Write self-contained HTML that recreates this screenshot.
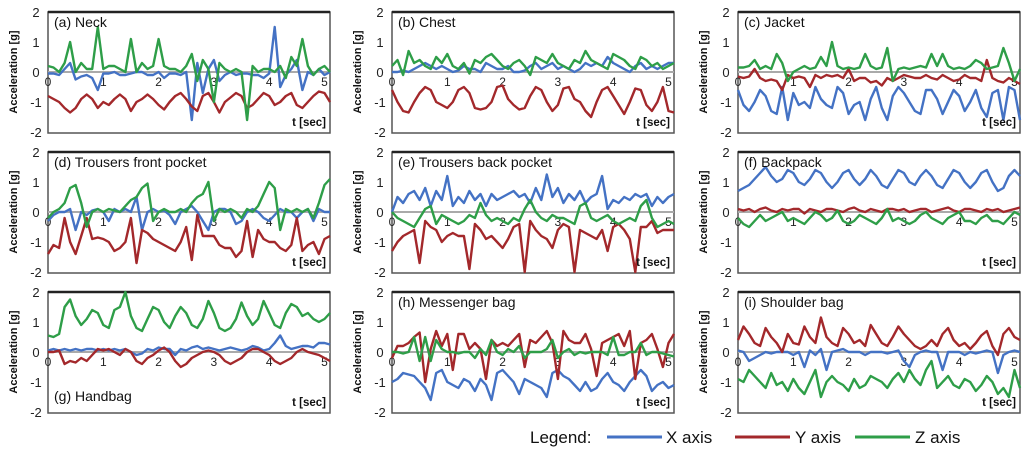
<!DOCTYPE html>
<html><head><meta charset="utf-8"><style>
body{margin:0;background:#fff;width:1024px;height:451px;overflow:hidden;font-family:"Liberation Sans","DejaVu Sans",sans-serif}
svg text{font-family:"Liberation Sans","DejaVu Sans",sans-serif}
</style></head><body>
<svg id="chart" width="1024" height="451" viewBox="0 0 1024 451" xmlns="http://www.w3.org/2000/svg">
<g id="legend">
<text x="530" y="443" font-size="17" fill="#111">Legend:</text>
<line x1="607" y1="437" x2="662" y2="437" stroke="#4472C4" stroke-width="3"/>
<text x="666" y="443" font-size="17" fill="#111">X axis</text>
<line x1="735" y1="437" x2="790" y2="437" stroke="#A3282B" stroke-width="3"/>
<text x="795" y="443" font-size="17" fill="#111">Y axis</text>
<line x1="855" y1="437" x2="910" y2="437" stroke="#2E9E48" stroke-width="3"/>
<text x="915" y="443" font-size="17" fill="#111">Z axis</text>
</g>
</svg>
<script>
const panelTitles=["(a) Neck","(b) Chest","(c) Jacket","(d) Trousers front pocket","(e) Trousers back pocket","(f) Backpack","(g) Handbag","(h) Messenger bag","(i) Shoulder bag"];
const yTicks=[2,1,0,-1,-2];
const xTicks=[0,1,2,3,4,5];
const a_x=[-0.05,-0.05,-0.1,0.1,0.3,-0.25,-0.15,-0.1,-0.2,-0.6,-0.05,-0.05,0,-0.1,-0.1,-0.05,0,0,-0.1,-0.1,0,-0.2,-0.05,-0.05,-0.1,0,-1.6,0.3,-0.7,0.1,0.4,-0.3,-0.1,0,-0.1,-0.05,-0.05,-0.1,-0.1,-0.2,-0.05,1.5,-0.5,-0.1,0.1,0.4,-0.6,0,-0.1,0.1,-0.1,0];
const a_y=[-0.8,-0.9,-1.0,-1.2,-1.35,-1.2,-0.9,-0.75,-0.9,-1.2,-1.0,-1.1,-0.9,-0.75,-0.9,-1.3,-1.0,-0.9,-0.75,-0.9,-1.1,-1.25,-1.0,-0.8,-0.7,-0.9,-1.15,-1.3,-0.8,-0.7,-1.0,-1.35,-1.0,-0.85,-0.7,-0.8,-1.2,-1.1,-0.9,-0.7,-0.8,-1.1,-1.0,-0.8,-0.7,-1.1,-1.2,-1.0,-0.8,-0.65,-0.7,-1.0];
const a_z=[0.2,0.15,0,0.3,1.0,0,0.3,0.1,0.1,1.5,0.1,0.2,0.2,0.1,0,1.1,0,0.3,0.1,0.2,1.1,0.2,0.1,0.1,0,0.2,0.6,-0.3,0.4,0.1,-1.0,0.3,0.1,0,0.1,0,-1.6,0.2,0,0.1,0.1,0,0.2,-0.2,0.5,0.2,1.1,0.2,-0.1,0.1,0.2,0];
const b_x=[0,0,0.05,0,0.1,0.2,0.3,0.2,0.1,0.2,0.1,0,0.05,0.2,0.1,0.1,0,0.3,0.2,0.1,0.1,0.2,0,0,0.05,0.2,0.3,0.1,0.2,0.3,0.1,0.2,0.1,0,0.1,0.3,0.2,0.3,0.2,0.5,0.3,0.2,0.1,0,0.2,0.3,0.1,0.2,0.1,0.2,0.3,0.3];
const b_y=[-0.6,-1.0,-1.3,-1.35,-1.0,-0.7,-0.5,-0.6,-1.0,-1.1,-1.2,-1.0,-0.6,-0.5,-0.7,-1.2,-1.25,-1.2,-1.0,-0.5,-0.45,-0.9,-1.1,-1.25,-1.2,-0.8,-0.5,-0.6,-1.0,-1.3,-1.1,-0.55,-0.5,-0.9,-1.0,-1.3,-1.5,-1.0,-0.6,-0.5,-0.8,-1.1,-1.4,-1.0,-0.55,-0.6,-1.1,-1.3,-1.0,-0.5,-1.3,-1.35];
const b_z=[0.2,0.4,-0.1,0.7,0.3,0.4,0.2,0.1,0.5,0.3,0.6,0.2,0.1,0.3,-0.05,0.4,0.3,0.5,0.6,0.4,0.2,0.1,0.3,0.4,0.2,-0.1,0.5,0.4,0.3,0.6,0.3,0.2,0.1,0.4,0.3,0.7,0.4,0.3,0.2,0.1,0.6,0.5,0.4,0.2,0.1,0.5,0.4,0.2,0.3,0.1,0.2,0.3];
const c_x=[-0.6,-1.1,-1.3,-1.0,-0.6,-0.8,-1.3,-1.4,-0.5,-1.6,-0.7,-1.1,-1.0,-1.2,-0.5,-0.9,-1.1,-1.2,-0.5,-0.7,-1.4,-1.1,-1.0,-1.6,-0.9,-0.5,-1.2,-1.6,-0.8,-0.5,-0.7,-1.0,-1.3,-1.4,-0.6,-0.6,-0.9,-1.4,-1.0,-0.6,-0.8,-1.3,-1.0,-0.6,-1.2,-1.5,-0.7,-0.6,-1.6,-0.5,-0.6,-1.6];
const c_y=[-0.15,-0.2,-0.15,0.1,-0.2,-0.3,-0.25,-0.3,-0.6,-0.1,-0.2,-0.15,-0.2,-0.5,-0.1,-0.2,-0.1,-0.15,-0.1,-0.2,0.1,-0.3,-0.2,-0.2,-0.35,-0.3,-0.45,-0.2,-0.3,-0.2,-0.1,-0.15,-0.2,-0.2,-0.1,-0.2,-0.25,-0.1,-0.2,-0.3,-0.25,-0.1,-0.2,-0.2,-0.3,0.4,-0.2,-0.3,-0.35,-0.2,-0.3,-0.4];
const c_z=[0.15,0.15,0.2,0.4,0.1,0.2,0.1,0.6,0.3,-0.3,0,0.1,0.2,0.1,0.15,0.5,0.2,1.0,0.2,0.1,0.15,0.1,0.15,0.6,0.2,0.1,0.15,0.8,-0.3,0.1,0.15,0.1,0.15,0.2,0.15,0.6,0.2,0.6,0.2,0.1,0.15,0.1,0.2,0.4,0.3,0.1,0.15,0.2,0.8,0.3,-0.3,0.1];
const d_x=[-0.3,-0.1,0,0,0.1,-0.6,0,-0.1,0.05,0.1,0,-0.3,0.1,0,0.1,0,0.5,-0.6,0,0.1,0,0.05,-0.1,-0.4,0,0.1,0.2,0,-0.3,-0.6,0,0.1,0.1,0,-0.4,-0.3,0,0.1,0,-0.2,-0.3,-0.1,0.1,0,0,-0.2,0,0.1,-0.3,0.1,0,0];
const d_y=[-1.4,-1.1,-1.2,-0.2,-1.0,-1.4,-0.8,-0.2,-0.9,-0.85,-0.9,-1.0,-1.3,-1.2,-1.0,-0.2,-1.7,-0.6,-0.7,-0.9,-1.0,-1.1,-1.2,-1.3,-1.0,-0.5,-1.6,-0.1,-0.8,-0.8,-0.8,-1.1,-1.2,-1.2,-1.5,-1.3,-0.3,-1.5,-0.6,-0.9,-1.0,-1.0,-1.2,-1.3,-1.1,-0.2,-1.3,-1.1,-1.0,-1.4,-0.9,-0.8];
const d_z=[-0.2,0,0.1,0.3,0.8,0.9,0.3,-0.5,0,0.1,0,0.1,0.05,0,0.2,0.4,0.5,0.8,0.95,-0.3,0,0.1,0,0,0.1,0,0.3,0.5,0.6,1.0,-0.3,0.1,0,0.1,0,-0.2,0.1,0,0.2,0.6,1.0,0.8,-0.6,0.1,0,0.1,0,0.1,-0.2,0.3,0.9,1.1];
const e_x=[0,0.5,0.3,0.6,0.7,0.4,0.8,0.2,0.7,0.4,1.2,0.2,0.5,0.3,0.7,0.4,0.6,0.2,0.6,0.4,0.5,0.6,0.7,0.5,0.6,0.3,0.8,0.4,1.25,0.5,0.8,0.3,0.6,0.4,0.7,0.3,0.5,0.6,1.2,0.1,0.4,0.3,0.5,0.4,0.6,0.5,0.6,0.2,0.5,0.3,0.5,0.6];
const e_y=[-1.3,-1.0,-0.8,-0.7,-0.6,-1.7,-0.3,-0.5,-0.6,-1.0,-0.8,-0.7,-0.8,-0.8,-1.9,-0.4,-0.6,-0.9,-0.8,-1.0,-1.2,-0.9,-0.5,-0.4,-2.0,-0.3,-0.6,-0.8,-0.9,-1.2,-0.6,-0.4,-0.5,-2.0,-0.6,-0.7,-0.8,-0.9,-0.6,-1.3,-0.5,-0.4,-0.6,-0.9,-2.0,-0.5,-0.5,-0.3,-0.7,-0.6,-0.6,-0.6];
const e_z=[0,-0.2,-0.3,-0.4,-0.5,-0.2,0.1,0.2,-0.4,-0.1,-0.2,-0.3,-0.4,-0.3,-0.1,-0.2,0.3,-0.1,-0.3,-0.2,-0.3,-0.4,-0.2,-0.3,0.1,0.4,0,-0.2,-0.3,-0.1,-0.2,-0.2,-0.3,-0.4,0.2,0.3,-0.2,-0.3,-0.2,-0.1,-0.3,-0.4,-0.3,-0.2,-0.3,0.2,0.4,-0.2,-0.5,-0.4,-0.3,-0.4];
const f_x=[0.7,0.8,0.9,1.1,1.3,1.5,1.2,1.0,1.1,1.4,1.3,1.0,0.9,1.1,1.4,1.3,1.0,0.8,1.0,1.3,1.4,1.1,0.9,1.1,1.4,1.2,0.9,0.8,1.1,1.4,1.3,1.0,0.9,1.2,1.4,1.2,0.9,0.8,1.1,1.4,1.3,1.0,0.8,1.0,1.3,1.4,1.0,0.7,0.8,1.2,1.4,1.2];
const f_y=[0.1,0.05,0.1,0,0.1,0.15,0.05,0,0.1,0.05,0.1,0.1,-0.05,0.1,0.05,0,0.1,0.1,0.05,0,0.1,0.15,0.05,0,0.1,0.05,0,0.1,0.1,0.05,0.1,0,0.05,0.1,0.1,0,0.05,0.1,0.15,0.05,0,0.1,0.1,0.05,0,0.1,0.05,0.1,0,0.05,0.1,0.15];
const f_z=[-0.2,-0.4,-0.5,-0.3,-0.1,-0.3,-0.2,-0.1,0,-0.3,-0.2,-0.3,-0.4,-0.2,0,-0.1,-0.3,-0.2,0.05,-0.3,-0.4,-0.3,-0.1,-0.2,-0.3,-0.4,-0.2,0.1,-0.3,-0.2,-0.3,-0.4,-0.3,-0.1,0,-0.2,-0.3,-0.4,-0.2,-0.1,0,-0.3,-0.3,-0.4,-0.2,-0.1,-0.3,-0.3,-0.4,-0.2,0,-0.1];
const g_x=[0.05,0.1,0.05,0.1,0.05,0.1,0.05,0.1,0.1,0.05,0.1,0.05,0.1,0.05,0.1,0,-0.1,-0.05,0.1,0.05,0.15,0.1,0.1,-0.1,0.1,0.05,0.15,0.2,0.1,0.15,0.1,0.05,0.1,0.15,0.1,0.05,0.1,0.2,0.15,0.05,0.1,0.3,0.55,0.2,0.1,0.15,0.2,0.2,0.15,0.3,0.3,0.25];
const g_y=[0,0,0.05,-0.4,-0.3,-0.35,-0.2,-0.3,-0.1,0.1,0.05,0.1,0,-0.1,0.1,0,-0.3,-0.4,-0.2,-0.1,0.05,0.15,0,-0.3,-0.5,-0.4,-0.2,-0.1,0,0.05,0,-0.1,-0.3,-0.4,-0.3,-0.2,0,0.1,0.1,0,-0.1,-0.3,-0.4,-0.3,-0.2,0,0.1,0,-0.05,-0.1,-0.2,-0.3];
const g_z=[0.55,0.5,0.6,1.5,1.75,1.2,0.9,1.1,1.4,1.3,0.9,0.8,1.4,1.5,2.0,1.2,0.8,0.7,1.1,1.5,1.4,1.0,0.8,1.2,1.5,1.3,0.9,0.8,1.1,1.7,1.3,0.8,0.7,0.8,1.1,1.65,1.2,0.9,1.1,1.7,1.3,0.9,0.8,1.3,1.6,1.5,1.2,1.3,1.1,1.0,1.1,1.3];
const h_x=[-1.0,-0.9,-0.7,-0.75,-0.8,-1.0,-1.2,-1.6,-0.7,-0.6,-1.0,-1.1,-1.2,-0.9,-1.0,-1.3,-0.9,-1.1,-1.6,-0.7,-0.6,-0.8,-1.0,-1.4,-0.9,-1.0,-1.1,-1.2,-1.5,-0.7,-0.6,-0.8,-0.9,-1.1,-1.3,-1.0,-1.3,-1.2,-0.9,-0.7,-1.0,-1.1,-1.3,-1.0,-0.8,-0.6,-0.8,-1.3,-1.1,-1.0,-1.2,-1.1];
const h_y=[-0.2,0.2,0.2,0.3,0.5,0.65,-1.0,0.1,0.7,0.2,0.6,-0.6,0.6,0.6,0.1,0.3,0.1,-0.9,0.4,0.2,0.3,0.2,0.4,0.6,-0.5,0.4,0.3,0.5,0.7,0.3,-0.9,0.7,0.4,0.3,0.3,0.6,0.1,-0.8,0.3,0.4,0.5,0.6,0.2,0.7,-0.9,0.3,0.4,0.6,0.1,-0.5,0.3,0.6];
const h_z=[0,0,-0.05,0,0.5,-0.3,0.5,-0.3,0.4,0.1,0,0,-0.05,0,0,-0.2,0.1,-0.1,0.4,0,-0.1,0.1,0,0.2,-0.2,0,0,0,0.1,0.4,-0.2,0,0.1,-0.1,0,-0.05,0,0,0,-0.1,0.5,-0.1,-0.1,0,0,0.3,-0.1,0,0,-0.05,-0.1,-0.15];
const i_x=[0.05,0,-0.3,-0.2,-0.1,0,-0.05,0,0,0,-0.1,0,-0.5,0.05,-0.1,0.1,-0.6,0,0.05,0.1,0,0,0,-0.1,0,0,0,-0.05,0,0.05,-0.3,-0.5,-0.1,0,0.05,0,0,-0.6,0,0,0,-0.1,0,-0.05,0,0.05,0,-0.7,-0.1,0,0.05,0];
const i_y=[0.4,0.85,0.6,0.3,0.2,0.8,0.5,0.3,0,0.6,0.3,0.25,0.85,0.5,0.3,1.15,0.5,0.3,0.2,0.8,0.6,0.3,0.4,0.2,0.9,0.6,0.3,0.2,0.5,0.85,0.6,0.4,0.2,0.1,0.2,0.4,0.2,0.6,0.8,0.4,0.2,0.3,0.1,0.3,0.55,0.7,0.2,-0.1,0.6,0.8,0.5,0.4];
const i_z=[-0.9,-1.0,-0.6,-0.8,-1.0,-1.2,-0.7,-1.1,-1.0,-1.3,-0.9,-1.2,-1.4,-1.0,-0.6,-1.5,-1.0,-0.8,-1.0,-1.1,-1.3,-0.9,-1.2,-1.1,-0.8,-0.9,-1.0,-1.2,-0.9,-0.7,-1.0,-0.6,-0.9,-1.1,-0.6,-0.3,-1.2,-1.0,-0.8,-1.1,-1.2,-0.9,-1.0,-1.3,-1.1,-0.8,-1.0,-1.4,-1.2,-1.5,-0.6,-1.2];
const sampleStep=0.1;

const NS="http://www.w3.org/2000/svg";
const svg=document.getElementById('chart');
const colLeft=[48,392,738], rowZero=[72,212,352], boxW=282, pxPerG=30, tMax=5.1;
const seriesSets=[[a_x,a_y,a_z],[b_x,b_y,b_z],[c_x,c_y,c_z],[d_x,d_y,d_z],[e_x,e_y,e_z],[f_x,f_y,f_z],[g_x,g_y,g_z],[h_x,h_y,h_z],[i_x,i_y,i_z]];
const colors=["#4472C4","#A3282B","#2E9E48"];
const axNames=["x","y","z"];
function mk(tag,attrs,parent){const e=document.createElementNS(NS,tag);for(const k in attrs)e.setAttribute(k,attrs[k]);parent.appendChild(e);return e;}
for(let p=0;p<9;p++){
  const L=colLeft[p%3], Z=rowZero[Math.floor(p/3)];
  const xs=t=>L+t/tMax*boxW, ys=v=>Z-v*pxPerG;
  const g=mk('g',{},svg);
  
  
  const box=mk('rect',{x:L,y:Z-60,width:boxW,height:121,fill:'#fff',stroke:'#555','stroke-width':1.5},g);
  
  
  mk('line',{x1:L,y1:Z-60,x2:L+boxW,y2:Z-60,stroke:'#222','stroke-width':2.5},g);
  const zl=mk('line',{x1:L,y1:Z,x2:L+boxW,y2:Z,stroke:'#aaa','stroke-width':2},g);
  
  
  for(const v of yTicks){
    const t=mk('text',{x:L-12,y:ys(v)+5,'font-size':13,'text-anchor':'middle',fill:'#222'},g);
    t.textContent=String(v);
    
    
  }
  const yt=mk('text',{x:0,y:0,'font-size':11,'font-weight':'bold','text-anchor':'middle',fill:'#111',transform:`translate(${L-31},${Z}) rotate(-90)`},g);
  yt.textContent='Acceleration [g]';
  
  
  for(const v of xTicks){
    const t=mk('text',{x:xs(v),y:Z+14,'font-size':12,'text-anchor':'middle',fill:'#222'},g);
    t.textContent=String(v);
    
    
  }
  const sers=seriesSets[p];
  for(let s=0;s<3;s++){
    const arr=sers[s];
    const d=arr.map((v,i)=>(i?'L':'M')+xs(Math.min(i*sampleStep,tMax)).toFixed(1)+','+ys(v).toFixed(1)).join('');
    const path=mk('path',{d:d,fill:'none',stroke:colors[s],'stroke-width':2.4,'stroke-linejoin':'round'},g);
    
    
  }
  const isG=(p===6);
  const tt=mk('text',{x:L+6,y:isG?Z+49:Z-45,'font-size':14,fill:'#111'},g);
  tt.textContent=panelTitles[p];
  
  
  const xt=mk('text',{x:L+boxW-4,y:Z+54,'font-size':11.5,'font-weight':'bold','text-anchor':'end',fill:'#111'},g);
  xt.textContent='t [sec]';
  
  
}
svg.appendChild(document.getElementById('legend'));
</script>
</body></html>
